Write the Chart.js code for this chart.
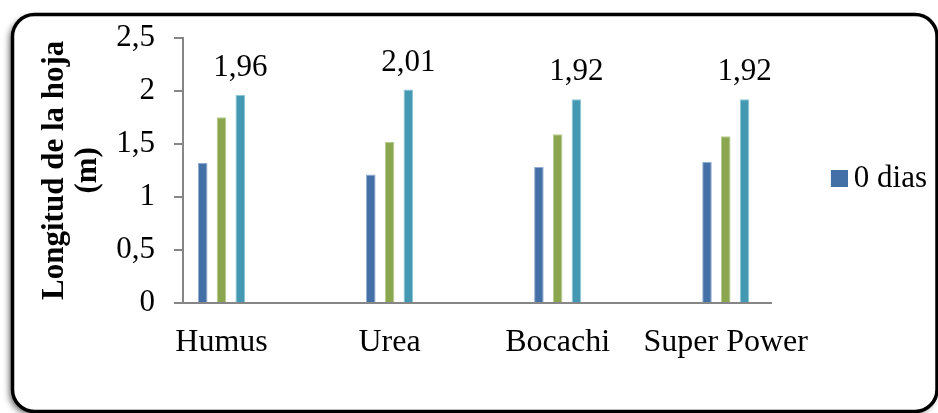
<!DOCTYPE html>
<html><head><meta charset="utf-8">
<script src="https://cdn.jsdelivr.net/npm/chart.js@4.4.1/dist/chart.umd.min.js"></script>
<style>html,body{margin:0;padding:0;background:#fff;}#wrap{width:938px;height:413px;}</style>
</head><body><div id="wrap"><canvas id="c" width="938" height="413"></canvas></div>
<script>
const categories = ['Humus', 'Urea', 'Bocachi', 'Super Power'];
const seriesNames = ['0 dias', 'Serie 2', 'Serie 3'];
const serie0 = [1.32, 1.21, 1.28, 1.33];
const serie1 = [1.75, 1.52, 1.59, 1.57];
const serie2 = [1.96, 2.01, 1.92, 1.92];
const yTicks = [0, 0.5, 1, 1.5, 2, 2.5];
const yTitle = ['Longitud de la hoja', '(m)'];

const colors = ['#4470a8', '#8aa64e', '#4399b1'];
const edgeColors = ['#93acd0', '#b8cc8e', '#8fc6d6'];
const FONT = 'Liberation Serif';

const legendMark = document.createElement('canvas');
legendMark.width = 20; legendMark.height = 17;
(function(){ const g = legendMark.getContext('2d'); g.fillStyle = colors[0]; g.fillRect(3, 0, 17, 17); })();

function rr(ctx, x, y, w, h, r) {
  ctx.beginPath();
  ctx.moveTo(x + r, y);
  ctx.arcTo(x + w, y, x + w, y + h, r);
  ctx.arcTo(x + w, y + h, x, y + h, r);
  ctx.arcTo(x, y + h, x, y, r);
  ctx.arcTo(x, y, x + w, y, r);
  ctx.closePath();
}

const framePlugin = {
  id: 'frame',
  beforeDraw(chart) {
    const ctx = chart.ctx;
    ctx.save();
    ctx.fillStyle = '#fff';
    ctx.fillRect(0, 0, chart.width, chart.height);
    rr(ctx, 12.5, 14.5, 924.5, 397, 22);
    ctx.shadowColor = 'rgba(0,0,0,0.6)';
    ctx.shadowBlur = 6;
    ctx.shadowOffsetX = -3;
    ctx.shadowOffsetY = 3;
    ctx.fillStyle = '#fff';
    ctx.fill();
    ctx.shadowColor = 'transparent';
    ctx.lineWidth = 3.5;
    ctx.strokeStyle = '#000';
    ctx.stroke();
    ctx.restore();
  }
};

const valueLabels = {
  id: 'valueLabels',
  afterDatasetsDraw(chart) {
    const meta = chart.getDatasetMeta(2);
    const ctx = chart.ctx;
    ctx.save();
    ctx.font = '31px "' + FONT + '"';
    ctx.fillStyle = '#000';
    ctx.textAlign = 'center';
    ctx.textBaseline = 'alphabetic';
    meta.data.forEach((bar, i) => {
      ctx.fillText(serie2[i].toFixed(2).replace('.', ','), bar.x, bar.y - 19);
    });
    ctx.restore();
  }
};

const allSeries = [serie0, serie1, serie2];
const datasets = allSeries.map((s, k) => ({
  label: seriesNames[k],
  data: s.map((v, i) => ({ x: i, y: v })),
  backgroundColor: colors[k],
  borderColor: edgeColors[k],
  borderWidth: 1,
  categoryPercentage: 0.335,
  barPercentage: 0.51
}));

new Chart(document.getElementById('c'), {
  type: 'bar',
  data: { datasets },
  plugins: [framePlugin, valueLabels],
  options: {
    responsive: false,
    animation: false,
    layout: { padding: { left: 20, top: 33, right: 1, bottom: 0 } },
    plugins: {
      tooltip: { enabled: false },
      legend: {
        position: 'right',
        align: 'center',
        fullSize: false,
        title: { display: true, text: ' ', padding: 0, font: { size: 10, lineHeight: 1.7 } },
        labels: {
          filter: item => item.datasetIndex === 0,
          usePointStyle: true,
          pointStyle: legendMark,
          pointStyleWidth: 1,
          boxHeight: 17,
          padding: 65.5,
          color: '#000',
          font: { family: FONT, size: 31 }
        }
      }
    },
    scales: {
      x: {
        type: 'linear',
        offset: false,
        min: -0.229,
        max: 3.274,
        afterBuildTicks: s => { s.ticks = categories.map((c, i) => ({ value: i })); },
        afterFit: s => { s.height = 110; },
        grid: { display: false, drawTicks: false },
        border: { color: '#868686', width: 2 },
        ticks: {
          padding: 20,
          color: '#000',
          font: { family: FONT, size: 32 },
          maxRotation: 0,
          autoSkip: false,
          callback: v => categories[v] ?? ''
        }
      },
      y: {
        min: 0,
        max: 2.5,
        afterBuildTicks: s => { s.ticks = yTicks.map(v => ({ value: v })); },
        afterFit: s => { s.width = 163; },
        grid: { drawOnChartArea: false, tickLength: 9, color: '#868686', lineWidth: 2 },
        border: { color: '#868686', width: 2 },
        ticks: {
          padding: 19,
          color: '#000',
          font: { family: FONT, size: 31 },
          callback: v => String(v).replace('.', ',')
        },
        title: {
          display: true,
          text: yTitle,
          color: '#000',
          padding: { top: 18.4, bottom: 0 },
          font: { family: FONT, size: 31, weight: 'bold', lineHeight: 1.07 }
        }
      }
    }
  }
});
</script></body></html>
